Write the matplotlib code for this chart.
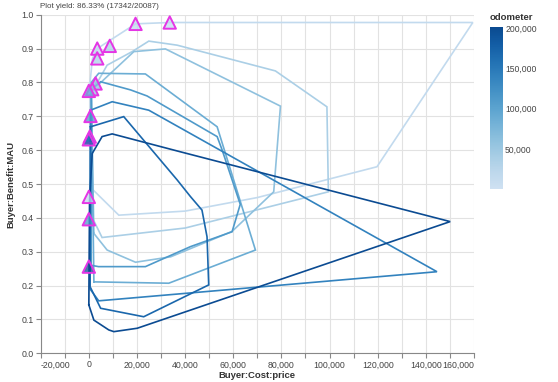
import numpy as np
import matplotlib
matplotlib.use('Agg')
import matplotlib.pyplot as plt
import matplotlib as mpl
from matplotlib.colors import LinearSegmentedColormap, Normalize
from matplotlib.ticker import FuncFormatter, MultipleLocator

# curves: price (x) and benefit (y), one loop per car, coloured by odometer
odometer = [15000, 38000, 60000, 88000, 112000, 140000, 170000, 200000]

price_a = [700, 12450, 40000, 70000, 119700, 159500, 33600, 19400, 3500, 1500, 500, 700]
mau_a = [0.49, 0.408, 0.42, 0.46, 0.551, 0.977, 0.977, 0.973, 0.90, 0.87, 0.80, 0.49]

price_b = [1500, 5500, 40000, 99500, 98900, 77500, 36700, 24900, 18000, 7600, 4100, 1000, 1500]
mau_b = [0.40, 0.342, 0.37, 0.477, 0.728, 0.834, 0.91, 0.922, 0.891, 0.851, 0.807, 0.78, 0.40]

price_c = [2100, 7600, 19400, 34000, 59500, 76800, 79600, 31800, 18700, 5000, 1000, 2100]
mau_c = [0.354, 0.305, 0.269, 0.285, 0.36, 0.477, 0.730, 0.899, 0.891, 0.80, 0.78, 0.354]

price_d = [2100, 33200, 69200, 53300, 23500, 4100, 1000, 2100]
mau_d = [0.211, 0.207, 0.305, 0.669, 0.825, 0.827, 0.80, 0.211]

price_e = [1000, 4000, 23500, 42200, 59500, 62900, 55400, 53300, 24200, 17300, 4900, 1000, 1000]
mau_e = [0.26, 0.256, 0.256, 0.315, 0.359, 0.44, 0.60, 0.64, 0.76, 0.778, 0.802, 0.78, 0.26]

price_f = [700, 9700, 24900, 144600, 4100, 500, 700]
mau_f = [0.718, 0.743, 0.718, 0.241, 0.155, 0.19, 0.718]

price_g = [700, 14500, 36700, 42200, 47000, 49100, 49800, 22800, 4900, 500, 700]
mau_g = [0.669, 0.699, 0.512, 0.463, 0.423, 0.344, 0.202, 0.108, 0.133, 0.197, 0.669]

price_h = [0, 2100, 8300, 10400, 20100, 150100, 38100, 9700, 5500, 1400, 300, 0]
mau_h = [0.143, 0.098, 0.069, 0.064, 0.074, 0.389, 0.595, 0.648, 0.640, 0.59, 0.45, 0.143]

curve_price = [price_a, price_b, price_c, price_d, price_e, price_f, price_g, price_h]
curve_mau = [mau_a, mau_b, mau_c, mau_d, mau_e, mau_f, mau_g, mau_h]

# highlighted points
tri_price = [19400, 33600, 3500, 8700, 3500, 2800, 1400, 0, 700, 400, 0, 0, 0, 0]
tri_mau = [0.973, 0.977, 0.900, 0.908, 0.871, 0.797, 0.780, 0.775, 0.701, 0.640, 0.632, 0.462, 0.396, 0.256]
tri_odometer = [15000, 15000, 15000, 38000, 38000, 60000, 60000, 88000, 112000, 140000, 170000, 15000, 112000, 200000]

cbar_ticks = [50000, 100000, 150000, 200000]

# vega "blues"
blues = LinearSegmentedColormap.from_list('blues', ['#cfe1f2', '#bed8ec', '#a8cee5', '#8fc1de', '#74b2d7', '#5ba3cf',
                                                    '#4592c6', '#3181bd', '#206fb2', '#125ca4', '#0a4a90'])
norm = Normalize(vmin=0, vmax=202000)

plt.rcParams['font.family'] = ['Liberation Sans', 'DejaVu Sans']
fig = plt.figure(figsize=(5.58, 3.82), dpi=100)
ax = fig.add_axes([0.0729, 0.0751, 0.7766, 0.8864])

for px, my, odo in zip(curve_price, curve_mau, odometer):
    ax.plot(px, my, color=blues(norm(odo)), lw=1.2, solid_joinstyle='miter', zorder=3)

face = [tuple(list(blues(norm(o))[:3]) + [0.75]) for o in tri_odometer]
ax.scatter(tri_price, tri_mau, marker='^', s=80, facecolors=face, edgecolors='#e535e5', linewidths=1.4, zorder=5)

ax.set_xlim(-20000, 160000)
ax.set_ylim(0, 1.0)
ax.xaxis.set_major_locator(MultipleLocator(10000))
ax.yaxis.set_major_locator(MultipleLocator(0.1))
ax.xaxis.set_major_formatter(FuncFormatter(lambda v, p: '{:,.0f}'.format(v) if round(v) % 20000 == 0 else ''))
ax.yaxis.set_major_formatter(FuncFormatter(lambda v, p: '%.1f' % v))
ax.grid(True, color='#e2e2e2', lw=0.8, zorder=0)
ax.set_axisbelow(True)
for s in ['top', 'right']:
    ax.spines[s].set_visible(False)
for s in ['left', 'bottom']:
    ax.spines[s].set_color('#888888')
    ax.spines[s].set_linewidth(0.8)
ax.tick_params(direction='out', length=3.6, width=0.8, color='#888888', labelsize=6.3, labelcolor='#444444', pad=1.5)
fig.canvas.draw()
labels = [t for t in ax.get_xticklabels() if t.get_text()]
labels[0].set_horizontalalignment('left')
labels[-1].set_horizontalalignment('right')

ax.set_xlabel('Buyer:Cost:price', fontsize=6.8, fontweight='bold', color='#333333', labelpad=1.5)
ax.set_ylabel('Buyer:Benefit:MAU', fontsize=6.8, fontweight='bold', color='#333333', labelpad=4)
fig.text(40 / 558, 1 - 6 / 382, 'Plot yield: 86.33% (17342/20087)', fontsize=5.8, color='#444444', va='center', ha='left')

# gradient legend
cax = fig.add_axes([490 / 558, (382 - 189) / 382, 13 / 558, 162 / 382])
cb = mpl.colorbar.ColorbarBase(cax, cmap=blues, norm=norm, orientation='vertical', ticks=cbar_ticks)
cb.outline.set_visible(False)
cax.tick_params(length=0, labelsize=6.2, labelcolor='#444444', pad=1.5)
cax.yaxis.set_major_formatter(FuncFormatter(lambda v, p: '{:,.0f}'.format(v)))
fig.text(490 / 558, 1 - 17 / 382, 'odometer', fontsize=6.8, fontweight='bold', color='#333333', va='center', ha='left')

fig.savefig('out.png', dpi=100)
